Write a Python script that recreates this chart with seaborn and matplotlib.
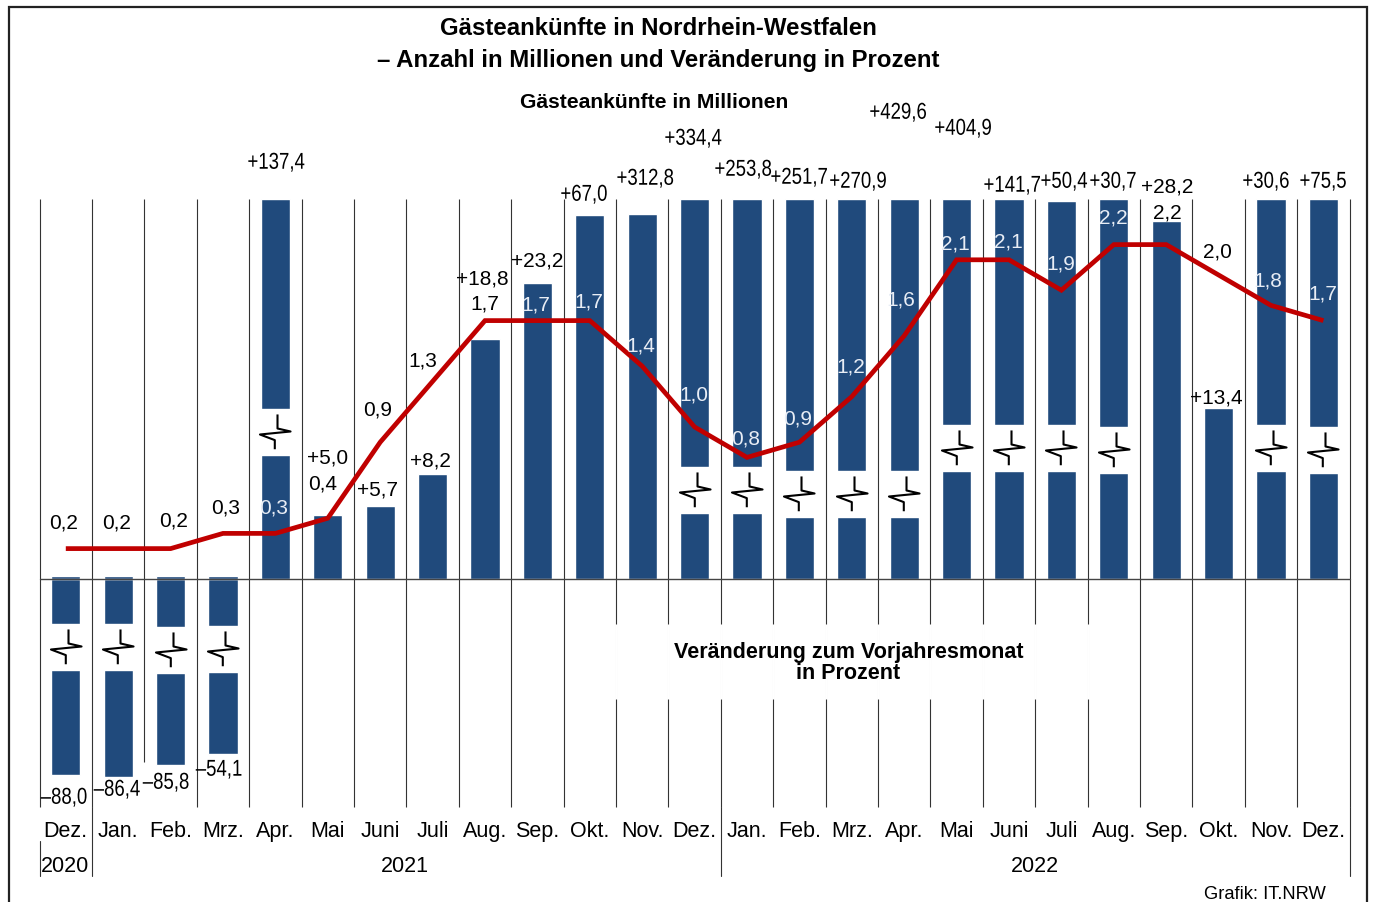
import matplotlib
matplotlib.use("Agg")
import matplotlib.pyplot as plt
import seaborn as sns
import pandas as pd
from matplotlib.path import Path
from matplotlib.lines import Line2D
from matplotlib.transforms import Affine2D
from matplotlib.patheffects import AbstractPathEffect

# ---- data ----
months = ["Dez.", "Jan.", "Feb.", "Mrz.", "Apr.", "Mai", "Juni", "Juli", "Aug.", "Sep.", "Okt.", "Nov.", "Dez.",
          "Jan.", "Feb.", "Mrz.", "Apr.", "Mai", "Juni", "Juli", "Aug.", "Sep.", "Okt.", "Nov.", "Dez."]
arrivals_mio = [0.2, 0.2, 0.2, 0.3, 0.3, 0.4, 0.9, 1.3, 1.7, 1.7, 1.7, 1.4, 1.0,
                0.8, 0.9, 1.2, 1.6, 2.1, 2.1, 1.9, 2.2, 2.2, 2.0, 1.8, 1.7]
change_pct = [-88.0, -86.4, -85.8, -54.1, 137.4, 5.0, 5.7, 8.2, 18.8, 23.2, 67.0, 312.8, 334.4,
              253.8, 251.7, 270.9, 429.6, 404.9, 141.7, 50.4, 30.7, 28.2, 13.4, 30.6, 75.5]
# bar lengths as drawn on the chart's truncated percent axis
drawn_pct = [-15.35, -15.55, -14.55, -13.7, 29.8, 5.0, 5.7, 8.2, 18.8, 23.2, 28.55, 28.63, 29.8,
             29.8, 29.8, 29.8, 29.8, 29.8, 29.8, 29.65, 29.8, 28.05, 13.4, 29.8, 29.8]
# axis breaks on the bars: month index, lower and upper end of the gap on the drawn axis
break_month = [0, 1, 2, 3, 4, 12, 13, 14, 15, 16, 17, 18, 19, 20, 23, 24]
break_low = [-7.14, -7.14, -7.37, -7.29, 9.73, 5.18, 5.18, 4.86, 4.86, 4.86, 8.47, 8.47, 8.47, 8.31, 8.47, 8.31]
break_high = [-3.53, -3.53, -3.76, -3.69, 13.33, 8.78, 8.78, 8.47, 8.47, 8.47, 12.08, 12.08, 12.08, 11.92, 12.08, 11.92]
years = ["2020", "2021", "2022"]

title_1 = "Gästeankünfte in Nordrhein-Westfalen"
title_2 = "– Anzahl in Millionen und Veränderung in Prozent"
head_mio = "Gästeankünfte in Millionen"
head_pct = "Veränderung zum Vorjahresmonat\nin Prozent"
source = "Grafik: IT.NRW"

# ---- layout (pixels, top-left origin) ----
W, H = 1373, 903
L, R, T, B = 39.6, 1349.6, 200, 808
Y_TOP, Y_BOTTOM = 29.8, -17.88
mio_xy = [(64, 522), (117, 522), (174, 520), (226, 507), (274, 507), (323, 483), (378, 409), (423, 360),
          (485, 303), (536, 304), (589, 301), (641, 345), (694, 394), (746, 438), (798, 418), (851, 366),
          (901, 299), (955, 243), (1008, 241), (1061, 263), (1113, 217), (1167, 212), (1217, 251),
          (1268, 280), (1323, 293)]
mio_white = [4, 9, 10, 11, 12, 13, 14, 15, 16, 17, 18, 19, 20, 23, 24]
pct_xy = [(64, 796), (117, 788), (166, 781), (219, 768), (276, 161), (328, 457), (377, 489), (430, 460),
          (482, 278), (537, 260), (584, 193), (645, 177), (693, 137), (743, 168), (799, 176), (858, 180),
          (898, 111), (963, 127), (1012, 184), (1064, 180), (1113, 180), (1167, 186), (1216, 397),
          (1266, 180), (1323, 180)]
pct_regular = [5, 6, 7, 8, 9, 21, 22]
year_xy = [(65, 865), (405, 865), (1035, 865)]

sns.set_theme(style="white")
plt.rcParams["font.family"] = ["Liberation Sans", "DejaVu Sans"]

BLUE = "#204A7C"
RED = "#C00000"
TALL = 1.235


class Tall(AbstractPathEffect):
    """Draw a text taller about its own middle: the reference's change labels are condensed."""

    def __init__(self, factor):
        super().__init__()
        self.factor = factor

    def draw_path(self, renderer, gc, tpath, affine, rgbFace=None):
        ext = tpath.get_extents()
        cy = (ext.y0 + ext.y1) / 2
        stretch = Affine2D().translate(0, -cy).scale(1, self.factor).translate(0, cy)
        renderer.draw_path(gc, tpath, stretch + affine, rgbFace)


fig = plt.figure(figsize=(W / 100, H / 100), dpi=100, facecolor="white")
ax = fig.add_axes([L / W, 1 - B / H, (R - L) / W, (B - T) / H])
PX = Affine2D().scale(1, -1).translate(0, H)

frame = pd.DataFrame({"pos": range(len(months)), "drawn": drawn_pct})
negative_months = [i for i, v in enumerate(drawn_pct) if v < 0]

# vertical month separators (the Feb. one stops above its label)
seps = list(range(len(months) + 1))
sep_bottom = [Y_BOTTOM] * len(seps)
sep_bottom[2] = -14.35
ax.vlines([s - 0.5 for s in seps], sep_bottom, Y_TOP, color="#333333", lw=0.8, zorder=1, clip_on=False)

sns.barplot(data=frame, x="pos", y="drawn", color=BLUE, saturation=1, width=0.56, ax=ax, zorder=2)
ax.bar(negative_months, 0.2, width=0.56, color=BLUE, zorder=2)
ax.bar(break_month, [h - l for h, l in zip(break_high, break_low)], bottom=break_low,
       width=0.57, color="white", zorder=3)

ax.set_xlim(-0.5, len(months) - 0.5)
ax.set_ylim(Y_BOTTOM, Y_TOP)
ax.set_xticks(range(len(months)), labels=months)
ax.tick_params(axis="x", length=0, pad=9.5, labelsize=15.5, colors="black")
ax.set_yticks([])
ax.set_xlabel("")
ax.set_ylabel("")
sns.despine(ax=ax, left=True, bottom=True)
ax.set_facecolor("none")

# baseline
ax.axhline(0, color="#444444", lw=1.0, zorder=4, clip_on=False)

# break glyphs
glyph = Path([(2, 18), (2, 4), (15, 1), (-15.5, -2), (-0.7, -7.6), (-0.7, -16.7)])
ax.plot(break_month, [(l + h) / 2 for l, h in zip(break_low, break_high)], ls="", marker=glyph,
        ms=26, mfc="none", mec="black", mew=1.5, zorder=5)

# white box interrupting the separators behind the lower heading
ax.vlines([s - 0.5 for s in seps[11:21]], -9.42, -3.53, color="white", lw=2.0, zorder=1.5)

# arrivals line on its own scale
ax2 = ax.twinx()
ax2.set_ylim(-1.5, 2.5)
sns.lineplot(x=list(range(len(months))), y=arrivals_mio, color=RED, lw=3.4, ax=ax2,
             solid_joinstyle="miter", solid_capstyle="butt", errorbar=None, zorder=6)
ax2.set_yticks([])
ax2.set_ylabel("")
ax2.set_xlim(-0.5, len(months) - 0.5)
sns.despine(ax=ax2, left=True, bottom=True, right=True)


def px_text(x, y, s, shift=2, **kw):
    kw.setdefault("ha", "center")
    kw.setdefault("va", "center")
    kw.setdefault("color", "black")
    return fig.text(x, y + shift, s, transform=PX, **kw)


# value labels
for i, (v, (x, y)) in enumerate(zip(arrivals_mio, mio_xy)):
    px_text(x, y, f"{v:.1f}".replace(".", ","), shift=1, fontsize=15,
            color="#e8edf5" if i in mio_white else "black")
for i, (v, (x, y)) in enumerate(zip(change_pct, pct_xy)):
    s = f"{v:+.1f}".replace(".", ",").replace("-", "–")
    if i in pct_regular:
        px_text(x, y, s, shift=1, fontsize=15)
    else:
        t = px_text(x, y, s, shift=3, fontsize=13.4)
        t.set_path_effects([Tall(TALL)])

# headings
px_text(658, 27, title_1, fontsize=17.3, fontweight="bold")
px_text(658, 59, title_2, fontsize=17.3, fontweight="bold")
px_text(654, 101, head_mio, fontsize=15.2, fontweight="bold")
px_text(848.5, 661, head_pct, fontsize=15.5, fontweight="bold", linespacing=1.05)

# years and lower separators
for yr, (x, y) in zip(years, year_xy):
    px_text(x, y, yr, fontsize=15.5)
px_text(1326, 893, source, fontsize=13.2, ha="right")

for x, y0, y1 in [(40, 842, 877), (92, 808, 877), (721, 808, 877), (1350, 808, 877)]:
    fig.add_artist(Line2D([x, x], [y0, y1], transform=PX, color="#333333", lw=0.8))
# outer frame
fig.add_artist(Line2D([9, 9, 1367, 1367], [H, 8, 8, H], transform=PX, color="#222222", lw=1.6,
                      solid_joinstyle="miter"))

fig.savefig("out.png", dpi=100, facecolor="white")
